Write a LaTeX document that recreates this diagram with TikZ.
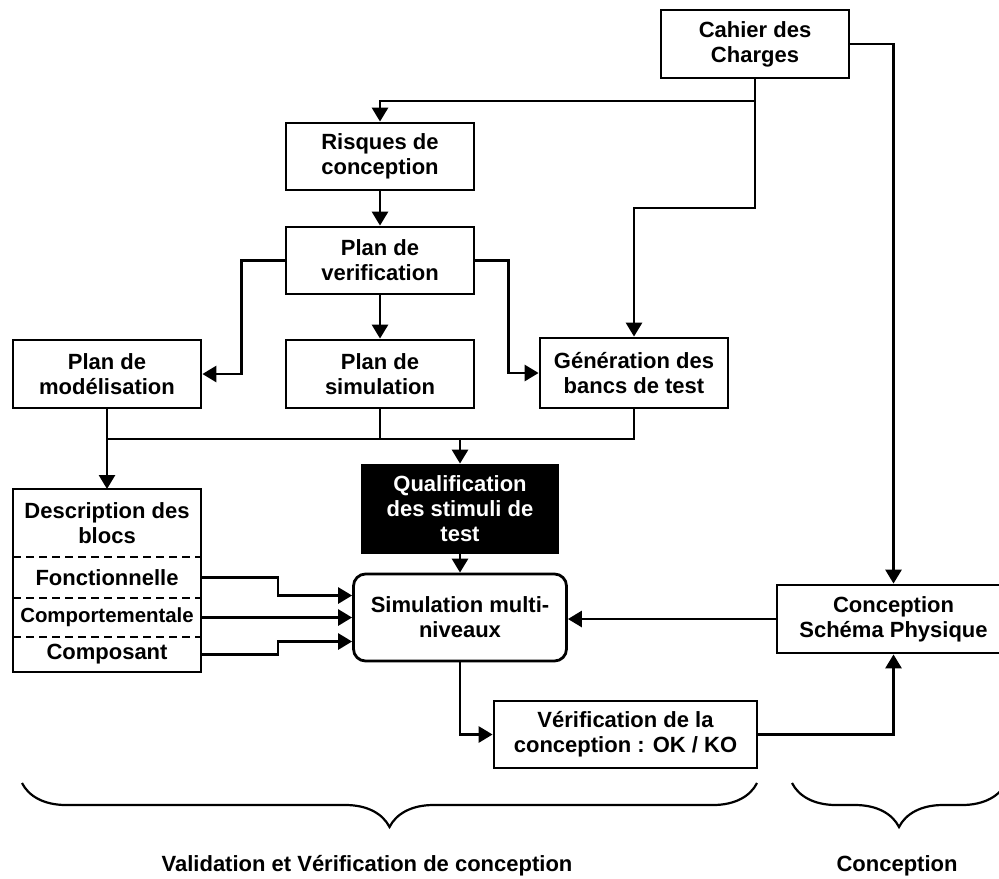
\documentclass[tikz,border=0pt]{standalone}
\usepackage{fontspec}
\setmainfont{Liberation Sans}
\usepackage{tikz}
\usetikzlibrary{
    arrows.meta,
    positioning,
    calc,
    decorations.pathreplacing
}
\newcommand{\flowfont}{\fontsize{11pt}{12.5pt}\selectfont\bfseries}
\tikzset{
    % Plain step box
    flowbox/.style={
        rectangle,
        draw=black,
        fill=white,
        line width=1.4pt,
        font=\flowfont,
        minimum width=94pt,
        minimum height=34pt,
        align=center,
        inner sep=2pt
    },
    % Black box with white text
    darkbox/.style={
        flowbox,
        fill=black,
        text=white
    },
    % Rounded simulation box
    roundbox/.style={
        flowbox,
        rounded corners=6pt
    },
    % Row of the block description
    rowbox/.style={
        rectangle,
        font=\flowfont,
        minimum width=94pt,
        inner sep=0pt,
        outer sep=0pt,
        align=center
    },
    % Arrow style
    flowarrow/.style={
        -{Triangle[length=7pt,width=8pt]},
        line width=1.4pt,
        color=black
    },
    % Plain connector
    busline/.style={
        line width=1.4pt,
        color=black
    },
    % Dashed separator
    sepline/.style={
        line width=1.1pt,
        dash pattern=on 4pt off 2.5pt
    },
    % Group brace
    groupbrace/.style={
        decorate,
        decoration={brace, amplitude=22pt, mirror},
        line width=1.1pt
    },
    % Group label
    grouplabel/.style={
        font=\flowfont,
        inner sep=0pt
    }
}

\begin{document}
\begin{tikzpicture}[x=0.5pt, y=-0.5pt]
    \useasboundingbox (0,0) rectangle (999,878);

    % Upper part
    \node[flowbox] (cahier) at (755,44) {Cahier des\\Charges};
    \node[flowbox, minimum height=33.5pt] (risques) at (380,156.5) {Risques de\\conception};
    \node[flowbox, minimum height=33.5pt] (verif) at (380,260.5) {Plan de\\verification};
    \node[flowbox] (modelplan) at (107,374) {Plan de\\modélisation};
    \node[flowbox] (simplan) at (380,374) {Plan de\\simulation};
    \node[flowbox, minimum height=35pt] (bancs) at (634,373) {Génération des\\bancs de test};

    % Block description
    \node[rowbox, minimum height=34pt] (deschead) at (107,523) {Description des\\blocs};
    \node[rowbox, minimum height=20.5pt, below=0pt of deschead] (fonct) {Fonctionnelle};
    \node[rowbox, minimum height=19.5pt, below=0pt of fonct, font=\fontsize{10.2pt}{12pt}\selectfont\bfseries] (comport) {Comportementale};
    \node[rowbox, minimum height=17.5pt, below=0pt of comport] (compos) {Composant};
    \draw[busline] (deschead.north west) rectangle (compos.south east);
    \draw[sepline] (fonct.north west) -- (fonct.north east);
    \draw[sepline] (comport.north west) -- (comport.north east);
    \draw[sepline] (compos.north west) -- (compos.north east);

    % Lower part
    \node[darkbox, minimum width=98pt, minimum height=44pt] (qualif) at (460,509) {Qualification\\des stimuli de\\test};
    \node[roundbox, minimum width=106.5pt, minimum height=43.5pt] (simul) at (460,617.5) {Simulation multi-\\niveaux};
    \node[flowbox, minimum width=116.5pt] (conc) at (893.5,619) {Conception\\Schéma Physique};
    \node[flowbox, minimum width=131.5pt, minimum height=33.5pt] (verifconc) at (625.5,734.5) {Vérification de la\\conception : OK / KO};

    % Connectors from the specification
    \coordinate (cahiersplit) at (755,101);
    \coordinate (cahierbend) at (755,208);
    \draw[busline] (cahier.south) -- (cahiersplit);
    \draw[flowarrow] (cahiersplit) -| (risques.north);
    \draw[flowarrow] (cahiersplit) -- (cahierbend) -| (bancs.north);
    \draw[flowarrow] (cahier.east) -| (conc.north);

    % Plans
    \draw[flowarrow] (risques) -- (verif);
    \draw[flowarrow] (verif) -- (simplan);
    \draw[flowarrow] (verif.west) -- ++(-43,0) |- (modelplan.east);
    \draw[flowarrow] (verif.east) -- ++(33,0) |- (bancs.west);

    % Collector line
    \coordinate (bus) at (0,439);
    \draw[busline] (modelplan.south) |- (bancs.south |- bus) -- (bancs.south);
    \draw[busline] (simplan.south) -- (simplan.south |- bus);
    \draw[flowarrow] (modelplan.south |- bus) -- (deschead.north);
    \draw[flowarrow] (qualif.north |- bus) -- (qualif.north);

    % Into the simulation
    \draw[flowarrow] (qualif) -- (simul);
    \draw[flowarrow] (fonct.east) -- ++(77,0) |- ([yshift=11pt]simul.west);
    \draw[flowarrow] (comport.east) -- (comport.east -| simul.west);
    \draw[flowarrow] (compos.east) -- ++(77,0) |- ([yshift=-12pt]simul.west);
    \draw[flowarrow] (conc.west) -- (conc.west -| simul.east);

    % Verification loop
    \draw[flowarrow] (simul.south) |- (verifconc.west);
    \draw[flowarrow] (verifconc.east) -| (conc.south);

    % Braces and group labels
    \coordinate (vvleft) at (22,783);
    \coordinate (vvright) at (757,783);
    \coordinate (concleft) at (792,783);
    \coordinate (concright) at (1006,783);
    \draw[groupbrace] (vvleft) -- (vvright);
    \draw[groupbrace] (concleft) -- (concright);
    \node[grouplabel] (vvlabel) at (367,866) {Validation et Vérification de conception};
    \node[grouplabel] (conclabel) at (897,866) {Conception};

\end{tikzpicture}
\end{document}
